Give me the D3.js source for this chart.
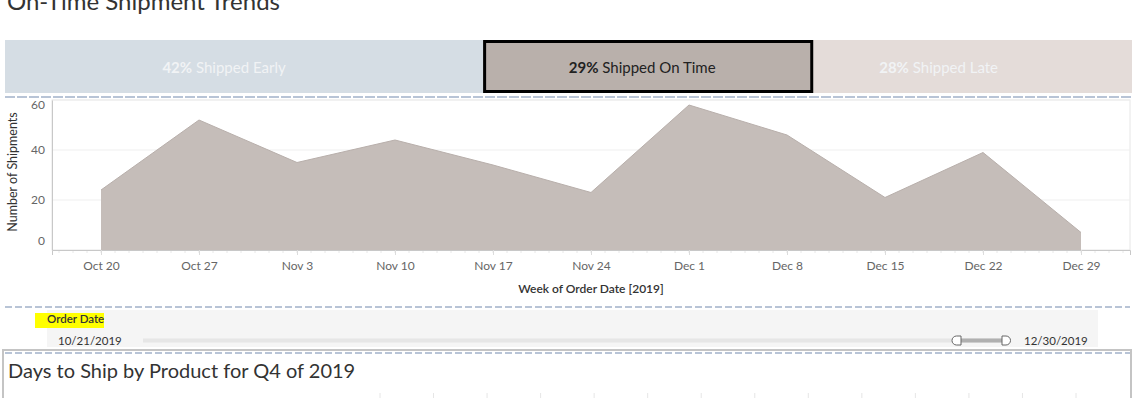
<!DOCTYPE html>
<html>
<head>
<meta charset="utf-8">
<script src="https://cdn.jsdelivr.net/npm/d3@7.9.0/dist/d3.min.js"></script>
<style>
  body { margin: 0; background: #fff; }
  svg { display: block; font-family: Lato, "Open Sans", sans-serif; }
</style>
</head>
<body>
<svg id="dash" width="1132" height="398"></svg>
<script>
// summary bar at the top
const shareLabels = ['Shipped Early', 'Shipped On Time', 'Shipped Late'];
const shareValues = [42, 29, 28];
const shareColors = ['#d5dde4', '#b9b0ab', '#e4dcd9'];

// weekly shipments (week of order date, 2019)
const weeks = ['2019-10-20', '2019-10-27', '2019-11-03', '2019-11-10', '2019-11-17', '2019-11-24',
               '2019-12-01', '2019-12-08', '2019-12-15', '2019-12-22', '2019-12-29'];
const shipments = [24, 52, 35, 44, 34, 23, 58, 46, 21, 39, 7];
const yTicks = [0, 20, 40, 60];

// order date filter
const filterStart = '10/21/2019';
const filterEnd = '12/30/2019';

const svg = d3.select('#dash');
const parse = d3.timeParse('%Y-%m-%d');
const dates = weeks.map(parse);

// page title, cut off at the top
svg.append('text').attr('x', 7).attr('y', 10)
    .attr('font-size', 24).attr('fill', '#333')
    .text('On-Time Shipment Trends');

// stacked share bar
const xShare = d3.scaleLinear().domain([0, d3.sum(shareValues)]).range([5, 1132]);
const starts = shareValues.map((d, i) => d3.sum(shareValues.slice(0, i)));
const bars = svg.append('g');
bars.selectAll('rect').data(shareValues).enter().append('rect')
    .attr('x', (d, i) => xShare(starts[i]))
    .attr('y', 40)
    .attr('width', (d, i) => xShare(starts[i] + d) - xShare(starts[i]))
    .attr('height', 53)
    .attr('fill', (d, i) => shareColors[i]);
// selected one gets the black frame
bars.append('rect')
    .attr('x', xShare(starts[1]) + 1.5).attr('y', 41.5)
    .attr('width', xShare(starts[1] + shareValues[1]) - xShare(starts[1]) - 3)
    .attr('height', 50)
    .attr('fill', 'none').attr('stroke', '#000').attr('stroke-width', 3);
// labels sit a bit left of each segment's centre, as in the dashboard
const labelShift = [-20, -6, -34];
const lbl = bars.selectAll('text.share').data(shareValues).enter().append('text')
    .attr('class', 'share')
    .attr('x', (d, i) => (xShare(starts[i]) + xShare(starts[i] + d)) / 2 + labelShift[i])
    .attr('y', 68).attr('dy', '0.35em')
    .attr('text-anchor', 'middle').attr('font-size', 15)
    .attr('fill', (d, i) => i === 1 ? '#222' : '#f1f3f5');
lbl.append('tspan').attr('font-weight', 'bold').text(d => d + '%');
lbl.append('tspan').text((d, i) => ' ' + shareLabels[i]);

// dashed separators
function dashed(y, x0, x1, dash) {
    svg.append('line').attr('x1', x0).attr('x2', x1).attr('y1', y).attr('y2', y)
        .attr('stroke', '#b8c4d6').attr('stroke-width', 2).attr('stroke-dasharray', dash);
}
dashed(97, 5, 1132, '10 2');

// area chart
const m = { left: 52, right: 1130, top: 100, bottom: 250 };
const x = d3.scaleTime()
    .domain([d3.timeHour.offset(dates[0], -84), d3.timeHour.offset(dates[dates.length - 1], 84)])
    .range([m.left, m.right]);
const y = d3.scaleLinear().domain([0, 60]).range([m.bottom, m.top]);

const plot = svg.append('g');
plot.append('rect').attr('x', m.left).attr('y', m.top)
    .attr('width', m.right - m.left).attr('height', m.bottom - m.top)
    .attr('fill', '#fff').attr('stroke', '#e6e6e6');
plot.selectAll('line.grid').data(yTicks.slice(1)).enter().append('line')
    .attr('x1', m.left).attr('x2', m.right)
    .attr('y1', d => y(d)).attr('y2', d => y(d))
    .attr('stroke', '#efefef');

const area = d3.area().x((d, i) => x(dates[i])).y0(y(0)).y1(d => y(d));
plot.append('path').datum(shipments).attr('d', area).attr('fill', '#c5bdb9');
plot.append('path').datum(shipments)
    .attr('d', d3.line().x((d, i) => x(dates[i])).y(d => y(d)))
    .attr('fill', 'none').attr('stroke', '#b8afab').attr('stroke-width', 1);

// daily minor ticks
const days = d3.timeDay.range(x.domain()[0], x.domain()[1]);
plot.selectAll('line.minor').data(days).enter().append('line')
    .attr('x1', d => x(d)).attr('x2', d => x(d))
    .attr('y1', m.bottom).attr('y2', m.bottom + 3)
    .attr('stroke', '#e8e8e8');

// x axis
const xAxis = d3.axisBottom(x).tickValues(dates).tickFormat(d3.timeFormat('%b %-d')).tickSize(5);
const gx = svg.append('g').attr('transform', `translate(0,${m.bottom})`).call(xAxis);
gx.select('.domain').attr('stroke', '#c8c8c8');
gx.selectAll('.tick line').attr('stroke', '#dcdcdc');
gx.selectAll('.tick text').attr('font-family', 'Lato, sans-serif').attr('font-size', 12)
    .attr('fill', '#666').attr('dy', '0.35em').attr('y', 15.5);

// y axis
const yAxis = d3.axisLeft(y).tickValues(yTicks).tickSize(0).tickPadding(7);
const gy = svg.append('g').attr('transform', `translate(${m.left},0)`).call(yAxis);
gy.select('.domain').attr('stroke', '#c8c8c8');
gy.selectAll('.tick text').attr('font-family', 'Lato, sans-serif').attr('font-size', 12)
    .attr('fill', '#666')
    .attr('transform', d => d === 0 ? 'translate(0,-9)' : d === 60 ? 'translate(0,5)' : null);

svg.append('text')
    .attr('transform', 'translate(13,172) rotate(-90)')
    .attr('text-anchor', 'middle').attr('dy', '0.35em')
    .attr('font-size', 12.5).attr('fill', '#333')
    .text('Number of Shipments');
svg.append('text')
    .attr('x', 591).attr('y', 289).attr('dy', '0.35em')
    .attr('text-anchor', 'middle').attr('font-size', 12).attr('font-weight', 600).attr('fill', '#333')
    .text('Week of Order Date [2019]');

// filter card
dashed(307, 5, 1130, '7 3');
const card = svg.append('g');
card.append('rect').attr('x', 47).attr('y', 310).attr('width', 1051).attr('height', 37).attr('fill', '#f5f5f5');
card.append('rect').attr('x', 35).attr('y', 313).attr('width', 69).attr('height', 15).attr('fill', '#ffff00');
card.append('text').attr('x', 47).attr('y', 319).attr('dy', '0.35em')
    .attr('font-size', 11.5).attr('font-weight', 600).attr('fill', '#333').text('Order Date');
card.append('text').attr('x', 58).attr('y', 341).attr('dy', '0.35em')
    .attr('font-size', 11.5).attr('fill', '#333').text(filterStart);
card.append('text').attr('x', 1024).attr('y', 341).attr('dy', '0.35em')
    .attr('font-size', 11.5).attr('fill', '#333').text(filterEnd);

const slider = d3.scaleLinear().domain([0, 1]).range([143, 1006]);
card.append('rect').attr('x', slider(0)).attr('y', 338.5).attr('width', slider(1) - slider(0)).attr('height', 4).attr('fill', '#e6e6e6');
card.append('rect').attr('x', 957).attr('y', 338.5).attr('width', 49).attr('height', 4).attr('fill', '#b0b0b0');
card.append('path').attr('d', 'M961,336 L956.5,336 A4.5,4.5 0 0 0 956.5,345 L961,345 Z')
    .attr('fill', '#fff').attr('stroke', '#666').attr('stroke-width', 1);
card.append('path').attr('d', 'M1002,336 L1006,336 A4.5,4.5 0 0 1 1006,345 L1002,345 Z')
    .attr('fill', '#fff').attr('stroke', '#666').attr('stroke-width', 1);

// next sheet, cut off at the bottom
const next = svg.append('g');
next.append('path').attr('d', 'M3,398 L3,350 L1131,350 L1131,398')
    .attr('fill', 'none').attr('stroke', '#c4c4c4').attr('stroke-width', 2);
dashed(353, 5, 1130, '7 3');
next.append('text').attr('x', 8).attr('y', 371).attr('dy', '0.35em')
    .attr('font-size', 20).attr('fill', '#333')
    .text('Days to Ship by Product for Q4 of 2019');
const cols = d3.scaleLinear().domain([0, 13]).range([380, 1076]);
next.selectAll('line.col').data(d3.range(14)).enter().append('line')
    .attr('x1', d => cols(d)).attr('x2', d => cols(d)).attr('y1', 393).attr('y2', 398)
    .attr('stroke', '#e6e6e6');
</script>
</body>
</html>
